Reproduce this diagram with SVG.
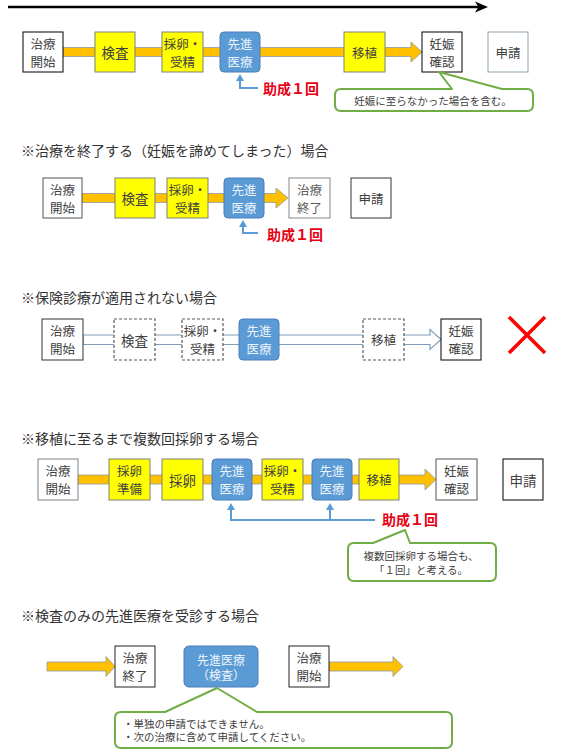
<svg xmlns="http://www.w3.org/2000/svg" width="561" height="756" viewBox="0 0 561 756">
<style>
.t{font-family:"Noto Sans CJK JP","Noto Sans CJK SC",sans-serif;dominant-baseline:central;text-anchor:middle;fill:#404040;font-size:13.5px}
.s{font-size:12.5px}
.title{font-size:14px;text-anchor:start;fill:#333}
.sm{font-size:10.5px}
.left{text-anchor:start}
.wt{fill:#EEF4FB}
.box{fill:#fff;stroke:#000;stroke-width:1}
.yel{fill:#FFFF00;stroke:#7F7F7F;stroke-width:1}
.blue{fill:#5B9BD5;stroke:#4A7EBB;stroke-width:1}
.dash{fill:#fff;stroke:#595959;stroke-width:1.2;stroke-dasharray:3 2}
.red{fill:#E60012;font-weight:bold;font-size:14px;text-anchor:start}
.orange{fill:#FFC000;stroke:#8D9AA0;stroke-width:0.8}
.hollow{fill:#fff;stroke:#7F9DB9;stroke-width:1.2}
.conn{fill:none;stroke:#5B9BD5;stroke-width:2}
.callout{fill:#fff;stroke:#70AD47;stroke-width:2;stroke-linejoin:round}
</style>
<defs>
<marker id="ah" viewBox="0 0 7 8" refX="4" refY="4" markerWidth="7" markerHeight="8" markerUnits="userSpaceOnUse" orient="auto">
<path d="M0,0 L7,4 L0,8 z" fill="#5B9BD5"/>
</marker>
</defs>
<rect width="561" height="756" fill="#fff"/>

<!-- connectors -->
<g id="connectors">
<path d="M8,7 H480" stroke="#000" stroke-width="2.5" fill="none"/>
<polygon points="488,7 475,1.5 478.5,7 475,12.5" fill="#000"/>
<path class="orange" d="M63,47.5 H411 V42 L422,52 L411,62 V56.5 H63 Z"/>
<path class="conn" d="M258,88 H240 V77" marker-end="url(#ah)"/>
<path class="orange" d="M82,193.5 H276 V188 L288,198 L276,208 V202.5 H82 Z"/>
<path class="conn" d="M258,233 H243 V223" marker-end="url(#ah)"/>
<path class="hollow" d="M83,335 H430 V329.5 L441,339.5 L430,349.5 V344.5 H83 Z"/>
<path class="orange" d="M78,475 H425 V469 L436,479.5 L425,490 V484 H78 Z"/>
<path class="conn" d="M375,520 H231 V506" marker-end="url(#ah)"/>
<path class="conn" d="M330,520 V506" marker-end="url(#ah)"/>
<path class="orange" d="M47,662 H106 V656.5 L115,666.5 L106,676.5 V671 H47 Z"/>
<path class="orange" d="M329,662 H393 V656.5 L403,666.5 L393,676.5 V671 H329 Z"/>
</g>

<!-- section 1 -->
<g id="s1-start"><rect class="box" x="23" y="32" width="40" height="40"/><text class="t s" x="43" y="43">治療</text><text class="t s" x="43" y="61">開始</text></g>
<g id="s1-kensa"><rect class="yel" x="95" y="32" width="40" height="40"/><text class="t" x="115" y="52">検査</text></g>
<g id="s1-sairan"><rect class="yel" x="162" y="32" width="41" height="40"/><text class="t s" x="182.5" y="43">採卵・</text><text class="t s" x="182.5" y="61">受精</text></g>
<g id="s1-senshin"><rect class="blue" x="220" y="32" width="40" height="40" rx="4"/><text class="t s wt" x="240" y="43">先進</text><text class="t s wt" x="240" y="61">医療</text></g>
<g id="s1-ishoku"><rect class="yel" x="344" y="32" width="41" height="40"/><text class="t s" x="364.5" y="52">移植</text></g>
<g id="s1-ninshin"><rect class="box" x="422" y="32" width="40" height="40"/><text class="t s" x="442" y="43">妊娠</text><text class="t s" x="442" y="61">確認</text></g>
<g id="s1-shinsei"><rect class="box" x="488" y="32" width="40" height="40" style="stroke:#8FA3B0"/><text class="t s" x="508" y="52">申請</text></g>
<g id="s1-josei"><text class="t red" x="263" y="88">助成１回</text></g>
<g id="s1-callout"><path class="callout" d="M341,89 H452 L439,72 L502,89 H527 Q533,89 533,95 V105 Q533,111 527,111 H341 Q335,111 335,105 V95 Q335,89 341,89 Z"/><text class="t sm" x="433" y="100.5">妊娠に至らなかった場合を含む。</text></g>

<!-- section 2 -->
<g id="s2-title"><text class="t title" x="21" y="150">※治療を終了する（妊娠を諦めてしまった）場合</text></g>
<g id="s2-start"><rect class="box" x="43" y="178" width="39" height="40" style="stroke:#555"/><text class="t s" x="62.5" y="189">治療</text><text class="t s" x="62.5" y="207">開始</text></g>
<g id="s2-kensa"><rect class="yel" x="115" y="178" width="40" height="40"/><text class="t" x="135" y="198">検査</text></g>
<g id="s2-sairan"><rect class="yel" x="167" y="178" width="41" height="40"/><text class="t s" x="187.5" y="189">採卵・</text><text class="t s" x="187.5" y="207">受精</text></g>
<g id="s2-senshin"><rect class="blue" x="224" y="178" width="40" height="40" rx="4"/><text class="t s wt" x="244" y="189">先進</text><text class="t s wt" x="244" y="207">医療</text></g>
<g id="s2-end"><rect class="box" x="289" y="178" width="41" height="40" style="stroke:#888"/><text class="t s" x="309.5" y="189" style="fill:#595959">治療</text><text class="t s" x="309.5" y="207" style="fill:#595959">終了</text></g>
<g id="s2-shinsei"><rect class="box" x="351" y="178" width="40" height="40" style="stroke:#333"/><text class="t s" x="371" y="198">申請</text></g>
<g id="s2-josei"><text class="t red" x="267" y="234">助成１回</text></g>

<!-- section 3 -->
<g id="s3-title"><text class="t title" x="21" y="297">※保険診療が適用されない場合</text></g>
<g id="s3-start"><rect class="box" x="42" y="319" width="41" height="41" style="stroke:#333"/><text class="t s" x="62.5" y="330.5">治療</text><text class="t s" x="62.5" y="348.5">開始</text></g>
<g id="s3-kensa"><rect class="dash" x="114" y="319" width="41" height="41"/><text class="t" x="134.5" y="339.5">検査</text></g>
<g id="s3-sairan"><rect class="dash" x="182" y="319" width="41" height="41"/><text class="t s" x="202.5" y="330.5">採卵・</text><text class="t s" x="202.5" y="348.5">受精</text></g>
<g id="s3-senshin"><rect class="blue" x="239" y="319" width="40" height="41" rx="4"/><text class="t s wt" x="259" y="330.5">先進</text><text class="t s wt" x="259" y="348.5">医療</text></g>
<g id="s3-ishoku"><rect class="dash" x="363" y="319" width="41" height="41"/><text class="t s" x="383.5" y="339.5">移植</text></g>
<g id="s3-ninshin"><rect class="box" x="441" y="319" width="40" height="41"/><text class="t s" x="461" y="330.5">妊娠</text><text class="t s" x="461" y="348.5">確認</text></g>
<g id="s3-x"><path d="M509,317 L545,353 M545,317 L509,353" stroke="#FF0000" stroke-width="3.5" fill="none"/></g>

<!-- section 4 -->
<g id="s4-title"><text class="t title" x="21" y="438">※移植に至るまで複数回採卵する場合</text></g>
<g id="s4-start"><rect class="box" x="38" y="459" width="40" height="41" style="stroke:#808080"/><text class="t s" x="58" y="470.5">治療</text><text class="t s" x="58" y="488.5">開始</text></g>
<g id="s4-junbi"><rect class="yel" x="109" y="459" width="41" height="41"/><text class="t s" x="129.5" y="470.5">採卵</text><text class="t s" x="129.5" y="488.5">準備</text></g>
<g id="s4-sairan"><rect class="yel" x="162" y="459" width="41" height="41"/><text class="t" x="182.5" y="479.5">採卵</text></g>
<g id="s4-senshin1"><rect class="blue" x="212" y="459" width="40" height="41" rx="4"/><text class="t s wt" x="232" y="470.5">先進</text><text class="t s wt" x="232" y="488.5">医療</text></g>
<g id="s4-jusei"><rect class="yel" x="262" y="459" width="41" height="41"/><text class="t s" x="282.5" y="470.5">採卵・</text><text class="t s" x="282.5" y="488.5">受精</text></g>
<g id="s4-senshin2"><rect class="blue" x="312" y="459" width="40" height="41" rx="4"/><text class="t s wt" x="332" y="470.5">先進</text><text class="t s wt" x="332" y="488.5">医療</text></g>
<g id="s4-ishoku"><rect class="yel" x="359" y="459" width="40" height="41"/><text class="t s" x="379" y="479.5">移植</text></g>
<g id="s4-ninshin"><rect class="box" x="436" y="459" width="41" height="41" style="stroke:#555"/><text class="t s" x="456.5" y="470.5">妊娠</text><text class="t s" x="456.5" y="488.5">確認</text></g>
<g id="s4-shinsei"><rect class="box" x="503" y="459" width="40" height="41"/><text class="t" x="523" y="479.5">申請</text></g>
<g id="s4-josei"><text class="t red" x="382" y="519">助成１回</text></g>
<g id="s4-callout"><path class="callout" d="M354,543 H373 L405,530 L410,543 H490 Q496,543 496,549 V575 Q496,581 490,581 H354 Q348,581 348,575 V549 Q348,543 354,543 Z"/><text class="t sm" x="421" y="555.5">複数回採卵する場合も、</text><text class="t sm" x="421" y="569">「１回」と考える。</text></g>

<!-- section 5 -->
<g id="s5-title"><text class="t title" x="21" y="615">※検査のみの先進医療を受診する場合</text></g>
<g id="s5-end"><rect class="box" x="115" y="646" width="40" height="41" style="stroke:#222"/><text class="t s" x="135" y="657.5">治療</text><text class="t s" x="135" y="675.5">終了</text></g>
<g id="s5-senshin"><rect class="blue" x="184" y="646" width="74" height="41" rx="5"/><text class="t wt" x="221" y="659" style="font-size:12px">先進医療</text><text class="t wt" x="221" y="674.5" style="font-size:12px">（検査）</text></g>
<g id="s5-start"><rect class="box" x="289" y="646" width="40" height="41" style="stroke:#222"/><text class="t s" x="309" y="657.5">治療</text><text class="t s" x="309" y="675.5">開始</text></g>
<g id="s5-callout"><path class="callout" d="M121,712 H165 L217,688 L257,712 H446 Q452,712 452,718 V742 Q452,748 446,748 H121 Q115,748 115,742 V718 Q115,712 121,712 Z"/><text class="t sm left" x="123" y="723">・単独の申請ではできません。</text><text class="t sm left" x="123" y="736.5">・次の治療に含めて申請してください。</text></g>
</svg>
